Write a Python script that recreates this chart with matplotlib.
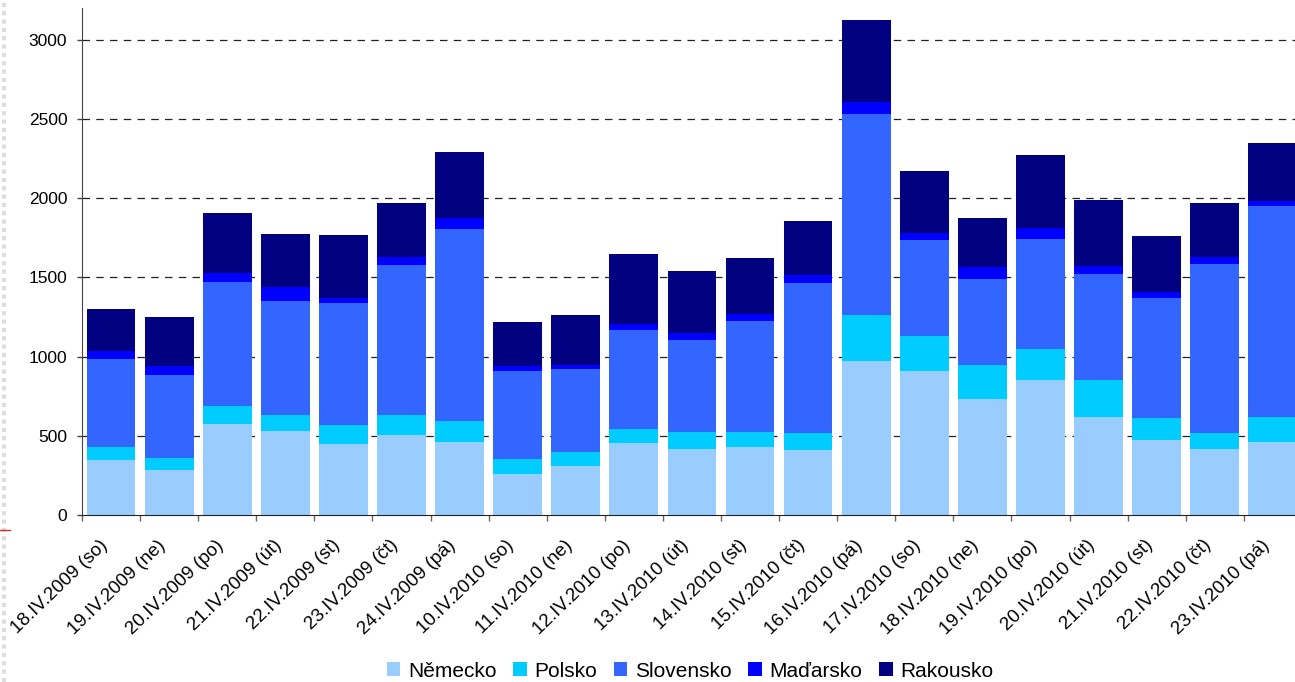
import matplotlib
matplotlib.use('Agg')

import matplotlib.pyplot as plt
import matplotlib.transforms as mtransforms
from matplotlib.lines import Line2D
import numpy as np

plt.rcParams['font.family'] = ['Liberation Sans', 'DejaVu Sans']

# ==========================================
# 1. data
# ==========================================
days = ['18.IV.2009 (so)', '19.IV.2009 (ne)', '20.IV.2009 (po)', '21.IV.2009 (út)',
        '22.IV.2009 (st)', '23.IV.2009 (čt)', '24.IV.2009 (pá)', '10.IV.2010 (so)',
        '11.IV.2010 (ne)', '12.IV.2010 (po)', '13.IV.2010 (út)', '14.IV.2010 (st)',
        '15.IV.2010 (čt)', '16.IV.2010 (pá)', '17.IV.2010 (so)', '18.IV.2010 (ne)',
        '19.IV.2010 (po)', '20.IV.2010 (út)', '21.IV.2010 (st)', '22.IV.2010 (čt)',
        '23.IV.2010 (pá)']

nemecko   = [347, 286, 575, 530, 447, 505, 460, 260, 309, 454, 418, 430, 411, 972, 908, 733, 852, 618, 473, 418, 460]
polsko    = [83, 74, 113, 101, 122, 126, 132, 94, 89, 89, 106, 94, 107, 289, 221, 213, 194, 234, 139, 100, 158]
slovensko = [554, 524, 782, 718, 769, 946, 1213, 554, 522, 625, 580, 699, 946, 1268, 605, 543, 695, 667, 756, 1065, 1332]
madarsko  = [52, 56, 56, 89, 34, 51, 68, 32, 28, 36, 44, 45, 49, 75, 45, 79, 68, 51, 38, 45, 29]
rakousko  = [264, 309, 379, 335, 394, 339, 415, 277, 313, 443, 390, 353, 341, 517, 390, 305, 460, 416, 354, 339, 367]

series_names = ['Německo', 'Polsko', 'Slovensko', 'Maďarsko', 'Rakousko']
series_colors = ['#99CCFF', '#00CCFF', '#3366FF', '#0000FF', '#000080']

y_ticks = [0, 500, 1000, 1500, 2000, 2500, 3000]

# ==========================================
# 2. plot
# ==========================================
fig = plt.figure(figsize=(12.95, 6.82), dpi=100)
ax = fig.add_axes([0.0633, 0.2449, 0.9420, 0.7434])

x = np.arange(len(days))
bottom = np.zeros(len(days))
for vals, name, col in zip([nemecko, polsko, slovensko, madarsko, rakousko],
                           series_names, series_colors):
    ax.bar(x, vals, width=0.84, bottom=bottom, color=col, label=name, zorder=2)
    bottom += np.array(vals)

ax.set_xlim(-0.5, len(days) - 0.5)
ax.set_ylim(0, 3200)

# dashed grid, not at zero
for yv in y_ticks[1:]:
    ax.axhline(yv, color='#222222', lw=0.9, linestyle=(0, (6, 5)), zorder=1)

ax.set_yticks(y_ticks)
ax.tick_params(axis='y', labelsize=12.5, length=3.6, width=1, color='#444444', pad=7)

# boundary ticks (major, no labels), labels at centres (minor)
ax.set_xticks(np.arange(-0.5, len(days), 1.0))
ax.set_xticklabels([])
ax.tick_params(axis='x', which='major', length=4.3, width=1, color='#666666')
ax.set_xticks(x, minor=True)
ax.set_xticklabels(days, minor=True, rotation=44, ha='right', va='center',
                   rotation_mode='anchor', fontsize=13.5)
ax.tick_params(axis='x', which='minor', length=0, pad=20)

# nudge the rotated labels a little to the left, like the original
shift = mtransforms.ScaledTranslation(-6 / 100, 0, fig.dpi_scale_trans)
for lab in ax.get_xticklabels(minor=True):
    lab.set_transform(lab.get_transform() + shift)

for s in ['top', 'right']:
    ax.spines[s].set_visible(False)
ax.spines['left'].set_color('#444444')
ax.spines['bottom'].set_color('#222222')

leg = fig.legend(loc='center', bbox_to_anchor=(0.533, 0.016), ncol=5, frameon=False,
                 fontsize=15, handlelength=0.65, handleheight=0.65,
                 handletextpad=0.37, columnspacing=0.8, borderaxespad=0)

# slide leftovers at the left edge
fig.add_artist(Line2D([0.003, 0.003], [0.0, 1.0], transform=fig.transFigure,
                      color='#dddddd', lw=3, linestyle=(0, (1, 1))))
fig.add_artist(Line2D([0.0, 0.008], [0.223, 0.223], transform=fig.transFigure,
                      color='#cc3333', lw=1))

fig.savefig('out.png', dpi=100)
plt.close(fig)
